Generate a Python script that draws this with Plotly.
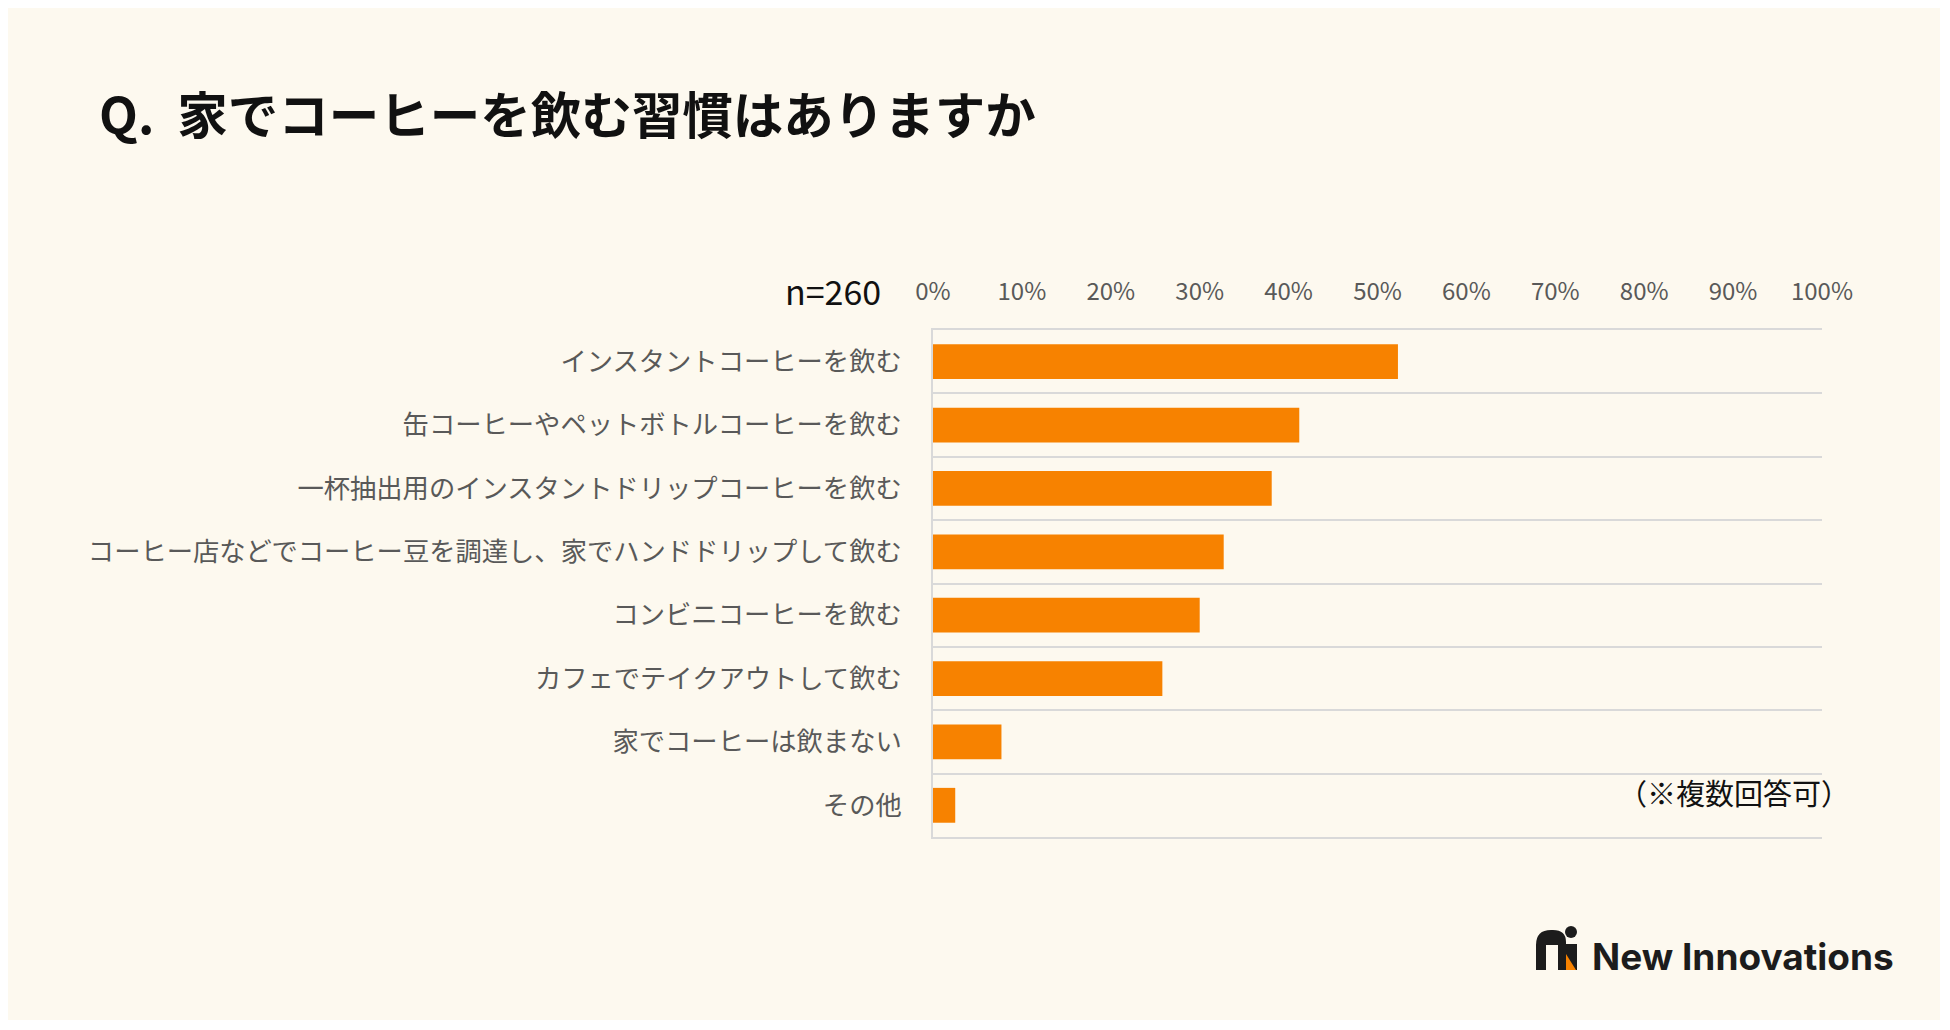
import plotly.graph_objects as go

# data
categories = [
    "インスタントコーヒーを飲む",
    "缶コーヒーやペットボトルコーヒーを飲む",
    "一杯抽出用のインスタントドリップコーヒーを飲む",
    "コーヒー店などでコーヒー豆を調達し、家でハンドドリップして飲む",
    "コンビニコーヒーを飲む",
    "カフェでテイクアウトして飲む",
    "家でコーヒーは飲まない",
    "その他",
]
shares = [0.523, 0.412, 0.381, 0.327, 0.300, 0.258, 0.077, 0.025]
x_ticks = [i / 10 for i in range(11)]

# page is shown with the browser's 8px body margin
OFF = 8
W, H = 1932, 1012
L, R, T, B = 925, 118, 322, 183
JP = "Noto Sans CJK JP"
ORANGE = "#F78200"
CREAM = "#FDF9EF"
GRID = "#D9D9D9"


# screen pixel -> paper coords
def px(x):
    return (x - OFF - L) / (W - L - R)


def py(y):
    return (H - B - (y - OFF)) / (H - T - B)


fig = go.Figure(go.Bar(
    x=shares,
    y=categories,
    orientation="h",
    width=0.55,
    marker=dict(color=ORANGE, line=dict(width=0)),
    hoverinfo="skip",
))

ink = "#1C1C1C"
shapes = [
    # logo mark
    dict(type="path", xref="paper", yref="paper",
         path=f"M {px(1536)},{py(970)} L {px(1536)},{py(945)} Q {px(1536)},{py(930)} {px(1551)},{py(930)} "
              f"L {px(1553)},{py(930)} Q {px(1566)},{py(930)} {px(1566)},{py(942)} L {px(1566)},{py(970)} "
              f"L {px(1558)},{py(970)} L {px(1558)},{py(945)} L {px(1546)},{py(945)} L {px(1546)},{py(970)} Z",
         fillcolor=ink, line=dict(width=0)),
    dict(type="circle", xref="paper", yref="paper", x0=px(1565), x1=px(1577),
         y0=py(938), y1=py(926), fillcolor=ink, line=dict(width=0)),
    dict(type="path", xref="paper", yref="paper",
         path=f"M {px(1566)},{py(944)} L {px(1577)},{py(944)} L {px(1577)},{py(970)} L {px(1566)},{py(970)} Z",
         fillcolor=ink, line=dict(width=0)),
    dict(type="path", xref="paper", yref="paper",
         path=f"M {px(1566)},{py(954)} L {px(1576)},{py(970)} L {px(1566)},{py(970)} Z",
         fillcolor=ORANGE, line=dict(width=0)),
]

annotations = [
    dict(text="n=260", xref="paper", yref="paper", x=px(883), y=py(290),
         xanchor="right", yanchor="middle", showarrow=False,
         font=dict(family=JP, size=34, color="#111111")),
    dict(text="（※複数回答可）", xref="paper", yref="paper", x=px(1852), y=py(792),
         xanchor="right", yanchor="middle", showarrow=False,
         font=dict(family=JP, size=29, color="#111111")),
    dict(text="<b>New Innovations</b>", xref="paper", yref="paper", x=px(1590), y=py(957),
         xanchor="left", yanchor="middle", showarrow=False,
         font=dict(family="Inter", size=37, color=ink)),
]

fig.update_layout(
    width=W, height=H,
    margin=dict(l=L, r=R, t=T, b=B, autoexpand=False),
    paper_bgcolor=CREAM,
    plot_bgcolor="rgba(0,0,0,0)",
    showlegend=False,
    title=dict(text="<b>Q.  家でコーヒーを飲む習慣はありますか</b>",
               x=(99 - OFF) / W, xanchor="left", y=1 - (116 - OFF) / H, yanchor="middle",
               font=dict(family=JP, size=50.5, color="#111111")),
    xaxis=dict(
        side="top", range=[0, 1], tickvals=x_ticks, tickformat=".0%",
        showgrid=False, zeroline=False, ticks="",
        showline=True, mirror=True, linecolor=GRID, linewidth=2,
        ticklabelstandoff=18,
        tickfont=dict(family=JP, size=24, color="#595959"),
        fixedrange=True,
    ),
    yaxis=dict(
        categoryorder="array", categoryarray=categories,
        range=[7.5, -0.5], tickson="boundaries",
        showgrid=True, gridcolor=GRID, gridwidth=2,
        showline=True, linecolor=GRID, linewidth=2,
        ticks="", ticklabelstandoff=24, zeroline=False,
        tickfont=dict(family=JP, size=26.3, color="#595959"),
        fixedrange=True,
    ),
    shapes=shapes,
    annotations=annotations,
)

fig.write_html("out.html", config={"displayModeBar": False})
